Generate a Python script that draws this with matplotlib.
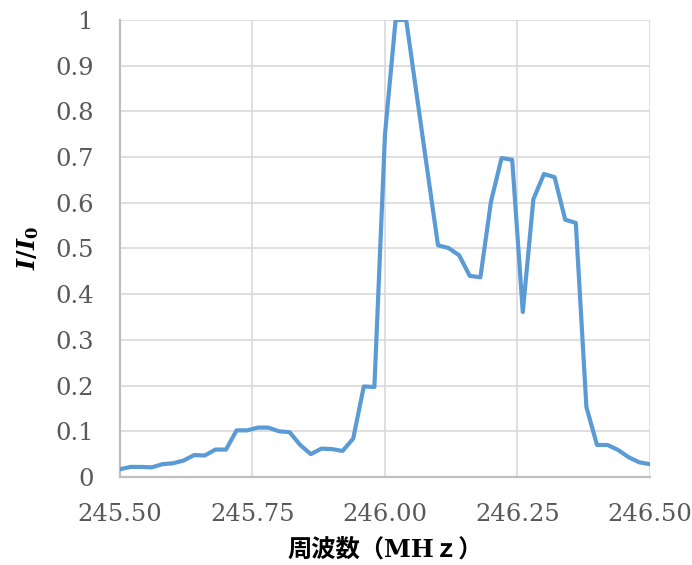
import numpy as np
import matplotlib
matplotlib.use("Agg")
import matplotlib.pyplot as plt
from matplotlib.ticker import FormatStrFormatter, FuncFormatter

# frequency steps (MHz) and normalised intensity
freq_start = 245.50
freq_step = 0.02
intensity = [
    0.017, 0.022, 0.022, 0.021, 0.028, 0.030, 0.036, 0.048, 0.047, 0.060,
    0.060, 0.102, 0.102, 0.108, 0.108, 0.100, 0.098, 0.070, 0.050, 0.062,
    0.061, 0.057, 0.084, 0.198, 0.197, 0.750, 1.000, 1.000, 0.835, 0.670,
    0.507, 0.501, 0.485, 0.440, 0.437, 0.603, 0.698, 0.694, 0.361, 0.608,
    0.663, 0.656, 0.563, 0.556, 0.153, 0.070, 0.070, 0.059, 0.043, 0.032,
    0.028,
]
freq = [round(freq_start + freq_step * i, 2) for i in range(len(intensity))]

x_ticks = [245.50, 245.75, 246.00, 246.25, 246.50]
y_ticks = [0, 0.1, 0.2, 0.3, 0.4, 0.5, 0.6, 0.7, 0.8, 0.9, 1.0]

plt.rcParams['mathtext.fontset'] = 'custom'
plt.rcParams['mathtext.it'] = 'DejaVu Serif:italic:bold'
plt.rcParams['mathtext.rm'] = 'DejaVu Serif:bold'

fig = plt.figure(figsize=(6.92, 5.65), dpi=100)
ax = fig.add_axes([0.1734, 0.1558, 0.9393 - 0.1734, 0.9646 - 0.1558])

ax.plot(freq, intensity, color='#5B9BD5', lw=3.0, solid_joinstyle='round', zorder=3)

ax.set_xlim(245.5, 246.5)
ax.set_ylim(0, 1)
ax.set_xticks(x_ticks)
ax.set_yticks(y_ticks)
ax.xaxis.set_major_formatter(FormatStrFormatter('%.2f'))
ax.yaxis.set_major_formatter(FuncFormatter(lambda v, p: '%g' % v))

ax.grid(True, color='#D9D9D9', lw=1.2)
ax.set_axisbelow(True)
for side in ['top', 'right']:
    ax.spines[side].set_visible(False)
for side in ['left', 'bottom']:
    ax.spines[side].set_color('#BFBFBF')
    ax.spines[side].set_linewidth(1.6)

ax.tick_params(length=0, labelsize=17.5, labelcolor='#595959')
ax.tick_params(axis='y', pad=19)
ax.tick_params(axis='x', pad=19)
for lab in ax.get_xticklabels() + ax.get_yticklabels():
    lab.set_family('DejaVu Serif')

ax.set_xlabel('周波数（MHｚ）', fontsize=17.5, fontweight='bold',
              family=['DejaVu Serif', 'Noto Sans CJK JP'], labelpad=8)
ax.set_ylabel(r'$I/I_0$', fontsize=17, labelpad=10)

fig.savefig('out.png', dpi=100)
